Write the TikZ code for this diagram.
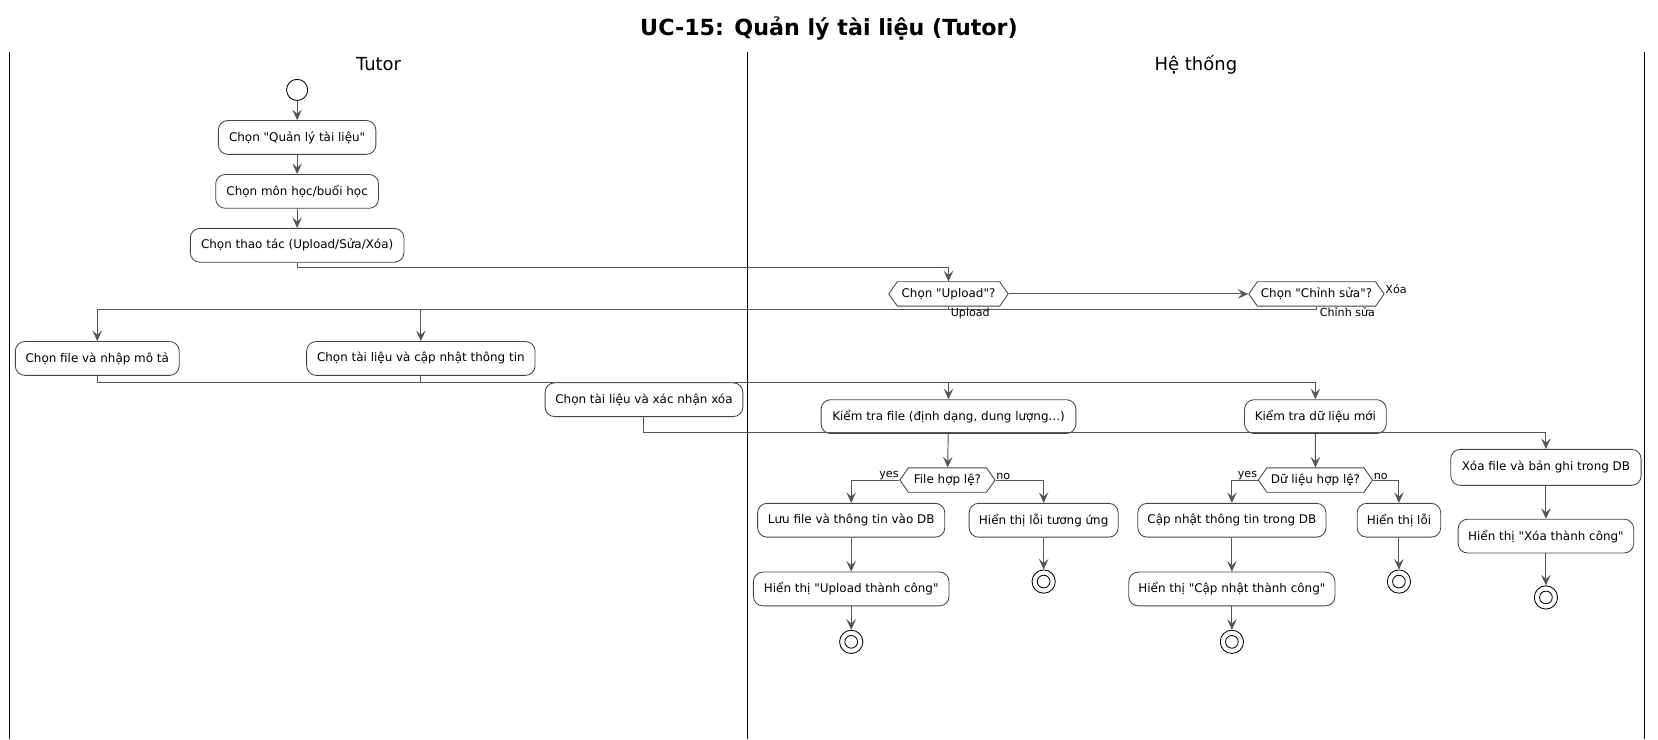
\documentclass[tikz,border=0pt]{standalone}
\usepackage{fontspec}
\setmainfont{DejaVu Sans}[Ligatures=TeXOff]
\usetikzlibrary{arrows.meta,shapes.symbols}
\definecolor{ln}{HTML}{555555}
\definecolor{bd}{HTML}{444444}
\tikzset{
  act/.style={draw=bd, line width=0.8pt, rounded corners=9pt, fill=white, font=\fontsize{11.3}{13}\selectfont, minimum height=32pt, inner xsep=8pt, inner ysep=0pt},
  hexd/.style={draw=bd, line width=0.8pt, fill=white, shape=signal, signal to=east and west, signal pointer angle=110, font=\fontsize{11.3}{13}\selectfont, minimum height=23pt, inner xsep=2pt, inner ysep=0pt},
  conn/.style={draw=ln, line width=0.9pt},
  arr/.style={conn, -{Stealth[length=10pt,width=9pt,inset=4pt]}},
  lbl/.style={font=\fontsize{10.5}{12}\selectfont, inner sep=1pt},
  startc/.style={circle, draw=black, line width=0.8pt, fill=white, minimum size=20pt, inner sep=0pt},
  endc/.style={circle, draw=black, line width=0.8pt, fill=white, minimum size=22pt, inner sep=0pt,
    path picture={\draw[black, line width=0.8pt] (path picture bounding box.center) circle (6pt);}},
  lane/.style={draw=black, line width=1pt},
  lanetitle/.style={font=\fontsize{17}{19}\selectfont},
}
\begin{document}
\begin{tikzpicture}[x=1pt,y=-1pt]
\useasboundingbox (0,0) rectangle (1568,699);
% title
\node[font=\bfseries\fontsize{21}{24}\selectfont] (title) at (784,27) {UC-15: Quản lý tài liệu (Tutor)};
% lanes
\draw[lane] (9,49) -- (9,699);
\draw[lane] (707,49) -- (707,699);
\draw[lane] (1555,49) -- (1555,699);
\node[lanetitle] (lt1) at (358,61) {Tutor};
\node[lanetitle] (lt2) at (1131,61) {Hệ thống};
% Tutor lane
\node[startc] (start) at (281,85) {};
\node[act, minimum width=149pt] (a1) at (281,130) {Chọn "Quản lý tài liệu"};
\node[act, minimum width=154pt] (a2) at (281,181) {Chọn môn học/buổi học};
\node[act, minimum width=202pt] (a3) at (281,232) {Chọn thao tác (Upload/Sửa/Xóa)};
\node[act, minimum width=155pt] (file) at (92,339) {Chọn file và nhập mô tả};
\node[act, minimum width=216pt] (upd) at (398,339) {Chọn tài liệu và cập nhật thông tin};
\node[act, minimum width=187pt] (del) at (609,378) {Chọn tài liệu và xác nhận xóa};
% System lane
\node[hexd, minimum width=113pt] (d1) at (897,278) {Chọn "Upload"?};
\node[hexd, minimum width=128pt] (d2) at (1245,278) {Chọn "Chỉnh sửa"?};
\node[act, minimum width=241pt] (kf) at (897,394) {Kiểm tra file (định dạng, dung lượng...)};
\node[act, minimum width=134pt] (kd) at (1244,394) {Kiểm tra dữ liệu mới};
\node[hexd, minimum width=90pt] (d3) at (896,454) {File hợp lệ?};
\node[hexd, minimum width=108pt] (d4) at (1244,454) {Dữ liệu hợp lệ?};
\node[act, minimum width=177pt] (save) at (805,492) {Lưu file và thông tin vào DB};
\node[act, minimum width=141pt] (err1) at (987,492) {Hiển thị lỗi tương ứng};
\node[act, minimum width=185pt] (okup) at (805,557) {Hiển thị "Upload thành công"};
\node[endc] (e1) at (805,607) {};
\node[endc] (e2) at (987,550) {};
\node[act, minimum width=178pt] (cupd) at (1165,492) {Cập nhật thông tin trong DB};
\node[act, minimum width=79pt] (err2) at (1323,492) {Hiển thị lỗi};
\node[act, minimum width=195pt] (okcu) at (1165,557) {Hiển thị "Cập nhật thành công"};
\node[endc] (e3) at (1165,607) {};
\node[endc] (e4) at (1323,550) {};
\node[act, minimum width=180pt, minimum height=34pt] (xf) at (1462,442) {Xóa file và bản ghi trong DB};
\node[act, minimum width=166pt] (okx) at (1462,507) {Hiển thị "Xóa thành công"};
\node[endc] (e5) at (1462,565) {};
% connectors
\draw[arr] (start) -- (a1);
\draw[arr] (a1) -- (a2);
\draw[arr] (a2) -- (a3);
\draw[arr] (a3.south) -- ++(0,5) -| (d1.north);
\draw[arr] (d1.east) -- (d2.west);
\draw[arr] (d1.south) -- ++(0,3) -| (file.north);
\draw[arr] (d2.south) -- ++(0,3) -| (upd.north);
\node[lbl, anchor=north west] (lup) at (898,290) {Upload};
\node[lbl, anchor=north west] (lcs) at (1247,290) {Chỉnh sửa};
\node[lbl, anchor=south west] (lx) at (1309,279) {Xóa};
\coordinate (j1) at (897,362);
\draw[conn] (file.south) |- (j1);
\draw[conn] (upd.south) -- (upd.south |- j1);
\draw[arr] (j1) -- (kf.north);
\draw[arr] (j1) -| (kd.north);
\draw[arr] (del.south) -- ++(0,15) -| (xf.north);
\draw[arr] (kf) -- (d3);
\draw[arr] (kd) -- (d4);
\draw[arr] (d3.west) -| (save.north);
\draw[arr] (d3.east) -| (err1.north);
\node[lbl, anchor=south east] (ly1) at (851,455) {yes};
\node[lbl, anchor=south west] (ln1) at (941,455) {no};
\draw[arr] (d4.west) -| (cupd.north);
\draw[arr] (d4.east) -| (err2.north);
\node[lbl, anchor=south east] (ly2) at (1190,455) {yes};
\node[lbl, anchor=south west] (ln2) at (1298,455) {no};
\draw[arr] (save) -- (okup);
\draw[arr] (okup) -- (e1);
\draw[arr] (err1) -- (e2);
\draw[arr] (cupd) -- (okcu);
\draw[arr] (okcu) -- (e3);
\draw[arr] (err2) -- (e4);
\draw[arr] (xf) -- (okx);
\draw[arr] (okx) -- (e5);
\end{tikzpicture}
\end{document}
